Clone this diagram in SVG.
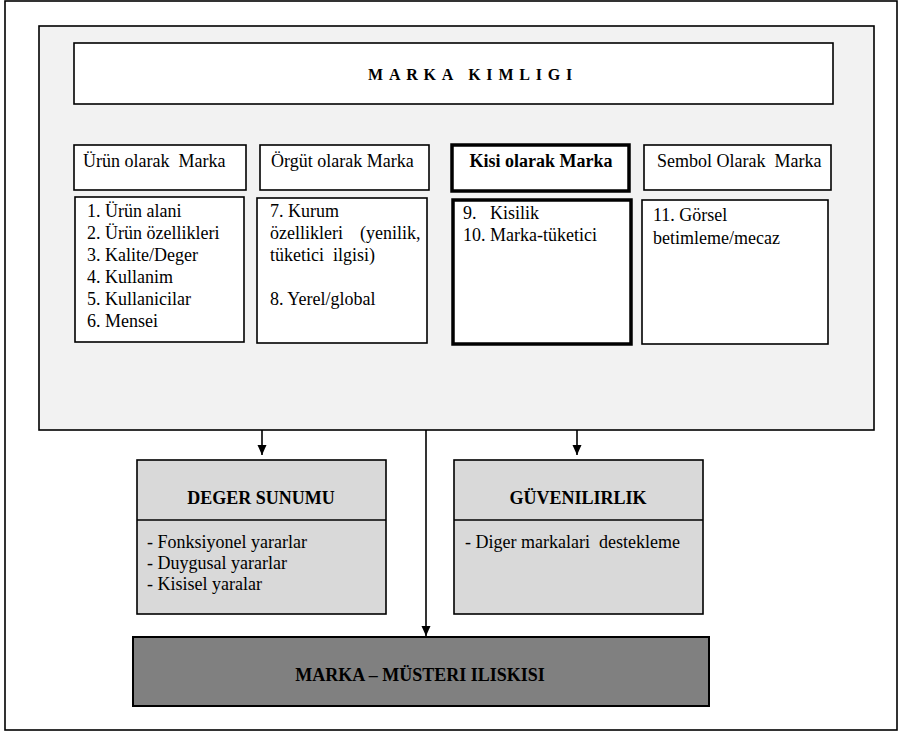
<svg xmlns="http://www.w3.org/2000/svg" width="899" height="732" viewBox="0 0 899 732">
<style>
.t{font-family:"Liberation Serif","Times New Roman",serif;font-size:18px;fill:#000}
.b{font-weight:bold}
.box{fill:#fff;stroke:#000;stroke-width:1.6}
.thick{fill:#fff;stroke:#000;stroke-width:3.5}
.gbox{fill:#d9d9d9;stroke:#000;stroke-width:1.6}
.ln{stroke:#000;stroke-width:1.6;fill:none}
</style>
<defs>
<marker id="ah" viewBox="0 0 10 10" refX="10" refY="5" markerWidth="10" markerHeight="10" markerUnits="userSpaceOnUse" orient="auto">
<path d="M0,0.5 L10,5 L0,9.5 Z" fill="#000"/>
</marker>
</defs>
<rect x="0" y="0" width="899" height="732" fill="#fff"/>
<rect id="frame" x="5" y="1" width="892" height="729" fill="#fff" stroke="#000" stroke-width="1.6"/>
<g id="panel">
<rect x="39" y="26" width="835" height="404" fill="#f2f2f2" stroke="#000" stroke-width="1.6"/>
</g>
<g id="title">
<rect class="box" x="74" y="43" width="759" height="61"/>
<text class="t b" x="368" y="80" style="font-size:16px;letter-spacing:5.8px">MARKA KIMLIGI</text>
</g>
<g id="urun">
<rect class="box" x="74" y="145" width="172" height="45"/>
<text class="t" x="83" y="167" xml:space="preserve">Ürün olarak  Marka</text>
<rect class="box" x="75" y="197" width="169" height="145"/>
<text class="t" x="87" y="217">1. Ürün alani</text>
<text class="t" x="87" y="239">2. Ürün özellikleri</text>
<text class="t" x="87" y="261">3. Kalite/Deger</text>
<text class="t" x="87" y="283">4. Kullanim</text>
<text class="t" x="87" y="305">5. Kullanicilar</text>
<text class="t" x="87" y="327">6. Mensei</text>
</g>
<g id="orgut">
<rect class="box" x="260" y="145" width="169" height="45"/>
<text class="t" x="271" y="167">Örgüt olarak Marka</text>
<rect class="box" x="257" y="198" width="170" height="145"/>
<text class="t" x="270" y="217">7. Kurum</text>
<text class="t" x="270" y="239">özellikleri</text>
<text class="t" x="360" y="239">(yenilik,</text>
<text class="t" x="270" y="261" xml:space="preserve">tüketici  ilgisi)</text>
<text class="t" x="270" y="305">8. Yerel/global</text>
</g>
<g id="kisi">
<rect class="thick" x="452" y="145" width="177" height="46"/>
<text class="t b" x="541" y="167" text-anchor="middle">Kisi olarak Marka</text>
<rect class="thick" x="453" y="200" width="178" height="144"/>
<text class="t" x="463" y="219">9.</text>
<text class="t" x="490" y="219">Kisilik</text>
<text class="t" x="463" y="241">10. Marka-tüketici</text>
</g>
<g id="sembol">
<rect class="box" x="644" y="145" width="187" height="45"/>
<text class="t" x="657" y="167" xml:space="preserve">Sembol Olarak  Marka</text>
<rect class="box" x="642" y="200" width="186" height="144"/>
<text class="t" x="653" y="221">11. Görsel</text>
<text class="t" x="653" y="244">betimleme/mecaz</text>
</g>
<g id="connectors">
<line class="ln" x1="262" y1="430" x2="262" y2="455" marker-end="url(#ah)"/>
<line class="ln" x1="577" y1="430" x2="577" y2="455" marker-end="url(#ah)"/>
<line class="ln" x1="426" y1="430" x2="426" y2="636" marker-end="url(#ah)"/>
</g>
<g id="deger">
<rect class="gbox" x="137" y="460" width="249" height="154"/>
<line class="ln" x1="137" y1="520" x2="386" y2="520"/>
<text class="t b" x="261" y="504" text-anchor="middle">DEGER SUNUMU</text>
<text class="t" x="147" y="548">- Fonksiyonel yararlar</text>
<text class="t" x="147" y="569">- Duygusal yararlar</text>
<text class="t" x="147" y="590">- Kisisel yaralar</text>
</g>
<g id="guven">
<rect class="gbox" x="454" y="460" width="249" height="154"/>
<line class="ln" x1="454" y1="520" x2="703" y2="520"/>
<text class="t b" x="578" y="504" text-anchor="middle">GÜVENILIRLIK</text>
<text class="t" x="465" y="548" xml:space="preserve">- Diger markalari  destekleme</text>
</g>
<g id="iliski">
<rect x="133" y="637" width="576" height="69" fill="#808080" stroke="#000" stroke-width="2"/>
<text class="t b" x="420" y="681" text-anchor="middle">MARKA – MÜSTERI ILISKISI</text>
</g>
</svg>
